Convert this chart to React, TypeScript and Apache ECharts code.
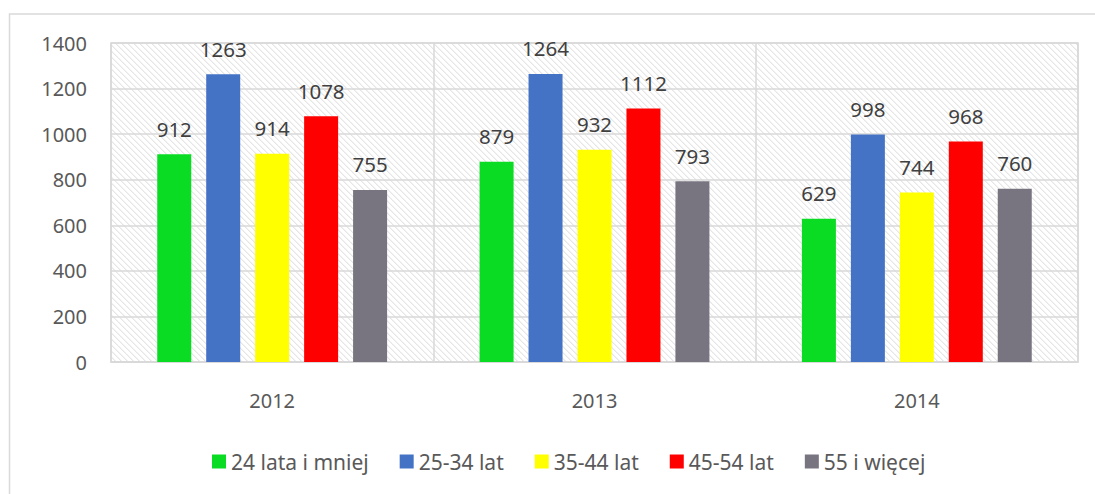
import React, { useEffect, useRef } from "react";
import * as echarts from "echarts";

const categories = ["2012", "2013", "2014"];
const seriesNames = ["24 lata i mniej", "25-34 lat", "35-44 lat", "45-54 lat", "55 i więcej"];
const age24 = [912, 879, 629];
const age25_34 = [1263, 1264, 998];
const age35_44 = [914, 932, 744];
const age45_54 = [1078, 1112, 968];
const age55 = [755, 793, 760];
const seriesValues = [age24, age25_34, age35_44, age45_54, age55];
const colors = ["#0ADC24", "#4472C4", "#FFFF00", "#FF0000", "#787480"];
const yTicks = [0, 200, 400, 600, 800, 1000, 1200, 1400];

const FONT = "'Noto Sans', 'Open Sans', sans-serif";

function makeHatch(): HTMLCanvasElement {
  const c = document.createElement("canvas");
  const n = 6;
  c.width = n;
  c.height = n;
  const ctx = c.getContext("2d")!;
  ctx.fillStyle = "#ffffff";
  ctx.fillRect(0, 0, n, n);
  const img = ctx.getImageData(0, 0, n, n);
  for (let y = 0; y < n; y++) {
    for (let x = 0; x < n; x++) {
      const d = (((x - y) % n) + n) % n;
      let v = 255;
      if (d === 0) v = 230;
      else if (d === 1) v = 242;
      const i = (y * n + x) * 4;
      img.data[i] = v;
      img.data[i + 1] = v;
      img.data[i + 2] = v;
      img.data[i + 3] = 255;
    }
  }
  ctx.putImageData(img, 0, 0);
  return c;
}

export default function App() {
  const ref = useRef<HTMLDivElement>(null);
  useEffect(() => {
    document.body.style.margin = "0";
    const chart = echarts.init(ref.current!, null, { renderer: "svg" });
    const W = 1095;
    const H = 494;
    const gLeft = 111;
    const gTop = 43;
    const gRight = 17;
    const gBottom = 132;
    chart.setOption({
      animation: false,
      backgroundColor: "#ffffff",
      textStyle: { fontFamily: FONT },
      graphic: [
        {
          type: "rect",
          z: -10,
          silent: true,
          shape: { x: 9.5, y: 14, width: 1200, height: 600 },
          style: { fill: "none", stroke: "#d9d9d9", lineWidth: 1.5 },
        },
        {
          type: "rect",
          z: -5,
          silent: true,
          shape: { x: gLeft, y: gTop, width: W - gLeft - gRight, height: H - gTop - gBottom },
          style: { fill: { image: makeHatch(), repeat: "repeat" } as any },
        },
      ],
      grid: {
        left: gLeft,
        top: gTop,
        right: gRight,
        bottom: gBottom,
        show: true,
        borderColor: "#d9d9d9",
        borderWidth: 1.5,
        backgroundColor: "transparent",
      },
      legend: {
        bottom: 17,
        left: 207,
        itemWidth: 14,
        itemHeight: 14,
        itemGap: 31,
        icon: "rect",
        textStyle: { fontSize: 21, color: "#595959", fontFamily: FONT },
        data: seriesNames,
      },
      xAxis: {
        type: "category",
        data: categories,
        axisTick: { show: false },
        axisLine: { lineStyle: { color: "#d9d9d9", width: 1.5 } },
        axisLabel: { fontSize: 20, color: "#595959", margin: 28 },
        splitLine: { show: true, lineStyle: { color: "#d9d9d9", width: 1.5 } },
      },
      yAxis: {
        type: "value",
        min: 0,
        max: 1400,
        interval: 200,
        axisLine: { show: false },
        axisTick: { show: false },
        axisLabel: {
          fontSize: 20,
          color: "#595959",
          margin: 24,
          formatter: (v: number) => (yTicks.includes(v) ? String(v) : ""),
        },
        splitLine: { lineStyle: { color: "#d9d9d9", width: 1.5 } },
      },
      series: seriesNames.map((name, i) => ({
        name,
        type: "bar",
        data: seriesValues[i],
        barWidth: 34,
        barGap: "44%",
        itemStyle: { color: colors[i] },
        label: {
          show: true,
          position: "top",
          distance: 15,
          fontSize: 20.5,
          color: "#404040",
          fontFamily: FONT,
        },
      })),
    });
    return () => chart.dispose();
  }, []);
  return <div ref={ref} style={{ width: 1095, height: 494 }} />;
}
